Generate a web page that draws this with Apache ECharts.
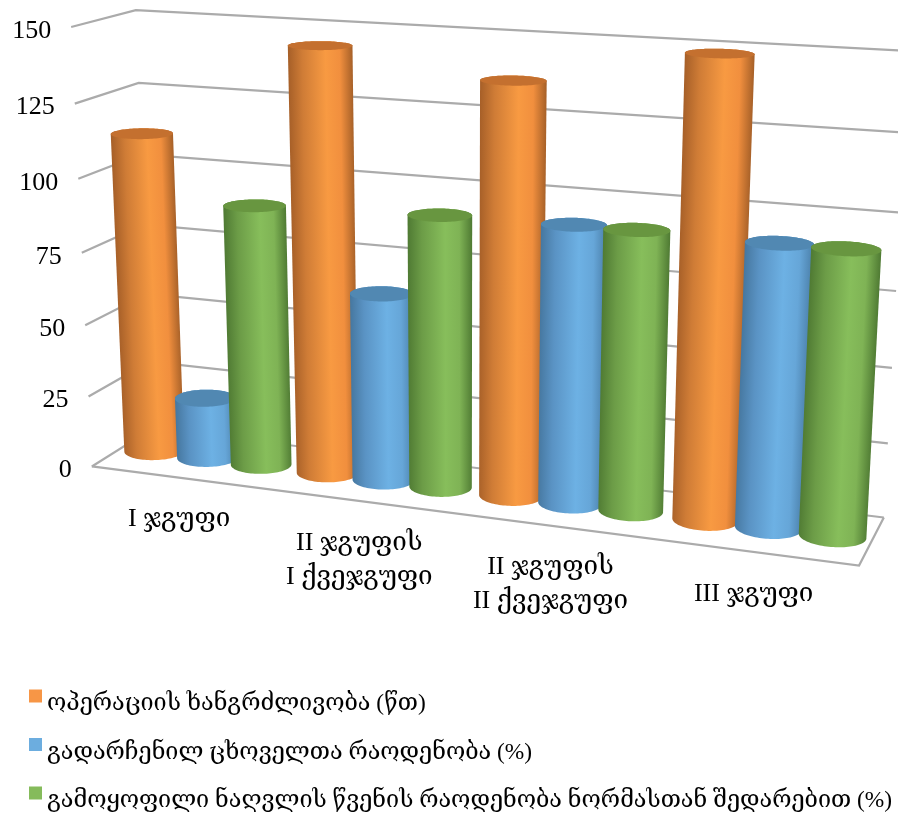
<!DOCTYPE html>
<html>
<head>
<meta charset="utf-8">
<style>html,body{margin:0;padding:0;background:#fff}#chart{width:898px;height:814px}</style>
<script src="https://cdn.jsdelivr.net/npm/echarts@6/dist/echarts.min.js"></script>
</head>
<body>
<div id="chart"></div>
<script>
// Chart data
const categories = ['I ჯგუფი', 'II ჯგუფის\nI ქვეჯგუფი', 'II ჯგუფის\nII ქვეჯგუფი', 'III ჯგუფი'];
const seriesNames = [
  'ოპერაციის ხანგრძლივობა (წთ)',
  'გადარჩენილ ცხოველთა რაოდენობა (%)',
  'გამოყოფილი ნაღვლის წვენის რაოდენობა ნორმასთან შედარებით (%)'
];
const durationValues = [112, 145, 137.5, 149.5];
const survivorValues = [21.5, 64.5, 93, 92.5];
const secretionValues = [90.5, 92.5, 93, 92.5];
const valueTicks = [0, 25, 50, 75, 100, 125, 150];

// Drawing constants
const FONT = '"Liberation Serif","DejaVu Serif","DejaVu Sans",serif';
const GRID = { left: 100, top: 50, width: 700, height: 400 };
const WALL_COLOR = '#ABABAB';
const BAR_STEP = 0.078;         // spacing of neighbouring cylinders along the category axis
const BAR_RADIUS = 0.04;        // cylinder radius along the category axis
const BAR_DEPTH_RADIUS = 0.22;  // cylinder radius along the depth axis
const PALETTE = [
  { base: '#F79646', top: '#C4702F', stops: ['#A65F28', '#CF7C36', '#F89A42', '#F18F3E', '#A66028'] },
  { base: '#6CADDF', top: '#5188B2', stops: ['#46779F', '#5A93C4', '#6DB1E4', '#66A6D8', '#4A7EA8'] },
  { base: '#85BB5B', top: '#689640', stops: ['#4F7A33', '#6C9C47', '#87BE5B', '#7FB355', '#4F7A33'] }
];

// Box corners of the 3D plot as (across, up, depth) -> screen position
const boxCorners = [
  [0, 0, 0, 93, 466], [0, 1, 0, 70, 27],
  [0, 0, 1, 151, 429], [0, 1, 1, 137, 10],
  [1, 0, 1, 884, 517], [1, 1, 1, 909, 51],
  [1, 0, 0, 859, 566]
];

// Least-squares fit of the perspective projection through the box corners
function fitProjection(corners) {
  const n = 11, A = [], b = [];
  corners.forEach(([u, v, d, sx, sy]) => {
    const x = sx / 1000, y = sy / 1000;
    A.push([u, v, d, 1, 0, 0, 0, 0, -x * u, -x * v, -x * d]); b.push(x);
    A.push([0, 0, 0, 0, u, v, d, 1, -y * u, -y * v, -y * d]); b.push(y);
  });
  const M = [];
  for (let i = 0; i < n; i++) {
    M.push([]);
    for (let j = 0; j <= n; j++) {
      let s = 0;
      A.forEach((row, k) => { s += row[i] * (j < n ? row[j] : b[k]); });
      M[i].push(s);
    }
  }
  for (let c = 0; c < n; c++) {
    let p = c;
    for (let r = c + 1; r < n; r++) if (Math.abs(M[r][c]) > Math.abs(M[p][c])) p = r;
    [M[c], M[p]] = [M[p], M[c]];
    for (let r = 0; r < n; r++) {
      if (r === c) continue;
      const f = M[r][c] / M[c][c];
      for (let j = c; j <= n; j++) M[r][j] -= f * M[c][j];
    }
  }
  return M.map((row, i) => row[n] / row[i]);
}
const H = fitProjection(boxCorners);
function project(u, v, d) {
  const w = H[8] * u + H[9] * v + H[10] * d + 1;
  return [
    1000 * (H[0] * u + H[1] * v + H[2] * d + H[3]) / w,
    1000 * (H[4] * u + H[5] * v + H[6] * d + H[7]) / w
  ];
}

// Axis pixel -> unit box coordinates
function toUnit(params, pt) {
  const cs = params.coordSys;
  return [(pt[0] - cs.x) / cs.width, (cs.y + cs.height - pt[1]) / cs.height];
}

function convexHull(points) {
  const pts = points.slice().sort((a, b) => a[0] - b[0] || a[1] - b[1]);
  const cross = (o, a, b) => (a[0] - o[0]) * (b[1] - o[1]) - (a[1] - o[1]) * (b[0] - o[0]);
  const half = list => {
    const out = [];
    list.forEach(p => {
      while (out.length > 1 && cross(out[out.length - 2], out[out.length - 1], p) <= 0) out.pop();
      out.push(p);
    });
    out.pop();
    return out;
  };
  return half(pts).concat(half(pts.reverse()));
}

function circle(cu, v, rings) {
  const out = [];
  for (let i = 0; i < rings; i++) {
    const a = i / rings * Math.PI * 2;
    out.push(project(cu + BAR_RADIUS * Math.cos(a), v, 0.5 + BAR_DEPTH_RADIUS * Math.sin(a)));
  }
  return out;
}

// One cylinder: silhouette with a shaded gradient, then its flat cap
function renderCylinder(params, api) {
  const idx = params.seriesIndex - 2;
  const colors = PALETTE[idx];
  const [u0] = toUnit(params, api.coord([api.value(0), 0]));
  const [, top] = toUnit(params, api.coord([api.value(0), api.value(1)]));
  const cu = u0 + (idx - 1) * BAR_STEP;
  const baseRing = circle(cu, 0, 96);
  const topRing = circle(cu, top, 96);
  const hull = convexHull(baseRing.concat(topRing));

  const a = project(cu, 0, 0.5), b = project(cu, top, 0.5);
  const len = Math.hypot(b[0] - a[0], b[1] - a[1]) || 1;
  const nx = -(b[1] - a[1]) / len, ny = (b[0] - a[0]) / len;
  const sx = nx < 0 ? -nx : nx, sy = nx < 0 ? -ny : ny;
  const mid = [(a[0] + b[0]) / 2, (a[1] + b[1]) / 2];
  let lo = Infinity, hi = -Infinity;
  hull.forEach(p => {
    const t = (p[0] - mid[0]) * sx + (p[1] - mid[1]) * sy;
    lo = Math.min(lo, t); hi = Math.max(hi, t);
  });
  const fill = new echarts.graphic.LinearGradient(
    mid[0] + sx * lo, mid[1] + sy * lo, mid[0] + sx * hi, mid[1] + sy * hi,
    [0, 0.22, 0.58, 0.8, 1].map((offset, i) => ({ offset, color: colors.stops[i] })),
    true
  );
  return {
    type: 'group',
    children: [
      { type: 'polygon', shape: { points: hull }, style: { fill } },
      { type: 'polygon', shape: { points: topRing }, style: { fill: colors.top } }
    ]
  };
}

// Left wall, back wall and floor lines for one value tick
function renderWall(params, api) {
  const value = api.value(0);
  const [, v] = toUnit(params, api.coord([0, value]));
  const line = points => ({
    type: 'polyline',
    shape: { points },
    style: { stroke: WALL_COLOR, lineWidth: 2.2, fill: null }
  });
  const front = project(0, v, 0);
  const children = [line([front, project(0, v, 1), project(1, v, 1)])];
  if (value === 0) {
    children.push(line([front, project(1, v, 0), project(1, v, 1)]));
  }
  children.push({
    type: 'text',
    style: {
      x: front[0] - 20, y: front[1] + 4,
      text: String(value), fill: '#000', font: '26px ' + FONT,
      align: 'right', verticalAlign: 'middle'
    }
  });
  return { type: 'group', children };
}

// Category label under the front edge of the floor
function renderCategory(params, api) {
  const cat = api.value(0);
  const [u] = toUnit(params, api.coord([cat, 0]));
  const p = project(u, 0, 0);
  return {
    type: 'text',
    style: {
      x: p[0] + 1, y: p[1] + 25,
      text: categories[cat], fill: '#000', font: '26px ' + FONT,
      align: 'center', verticalAlign: 'top', lineHeight: 34
    }
  };
}

const barSeries = [durationValues, survivorValues, secretionValues].map((values, i) => ({
  type: 'custom',
  name: seriesNames[i],
  coordinateSystem: 'cartesian2d',
  renderItem: renderCylinder,
  itemStyle: { color: PALETTE[i].base },
  encode: { x: 0, y: 1 },
  data: values.map((v, c) => [c, v]),
  clip: false,
  silent: true,
  z: 3
}));

const chart = echarts.init(document.getElementById('chart'), null, { renderer: 'canvas' });
chart.setOption({
  animation: false,
  backgroundColor: '#fff',
  grid: GRID,
  xAxis: { type: 'category', data: categories, show: false },
  yAxis: { type: 'value', min: 0, max: 150, interval: 25, show: false },
  legend: {
    data: seriesNames,
    orient: 'vertical',
    left: 29,
    top: 677,
    padding: 0,
    icon: 'rect',
    itemWidth: 13,
    itemHeight: 13,
    itemGap: 10,
    selectedMode: false,
    // the empty first row sits each name a little below its swatch
    formatter: '{gap| }\n{name|{name}}',
    textStyle: {
      rich: {
        gap: { height: 16, lineHeight: 16, fontSize: 10 },
        name: { fontFamily: FONT, fontSize: 23.4, color: '#000', lineHeight: 22 }
      }
    }
  },
  series: [
    {
      type: 'custom',
      name: 'walls',
      coordinateSystem: 'cartesian2d',
      renderItem: renderWall,
      encode: { y: 0 },
      data: valueTicks.map(v => [v]),
      clip: false,
      silent: true,
      z: 1
    },
    {
      type: 'custom',
      name: 'categories',
      coordinateSystem: 'cartesian2d',
      renderItem: renderCategory,
      encode: { x: 0 },
      data: categories.map((c, i) => [i]),
      clip: false,
      silent: true,
      z: 2
    }
  ].concat(barSeries)
});
</script>
</body>
</html>
